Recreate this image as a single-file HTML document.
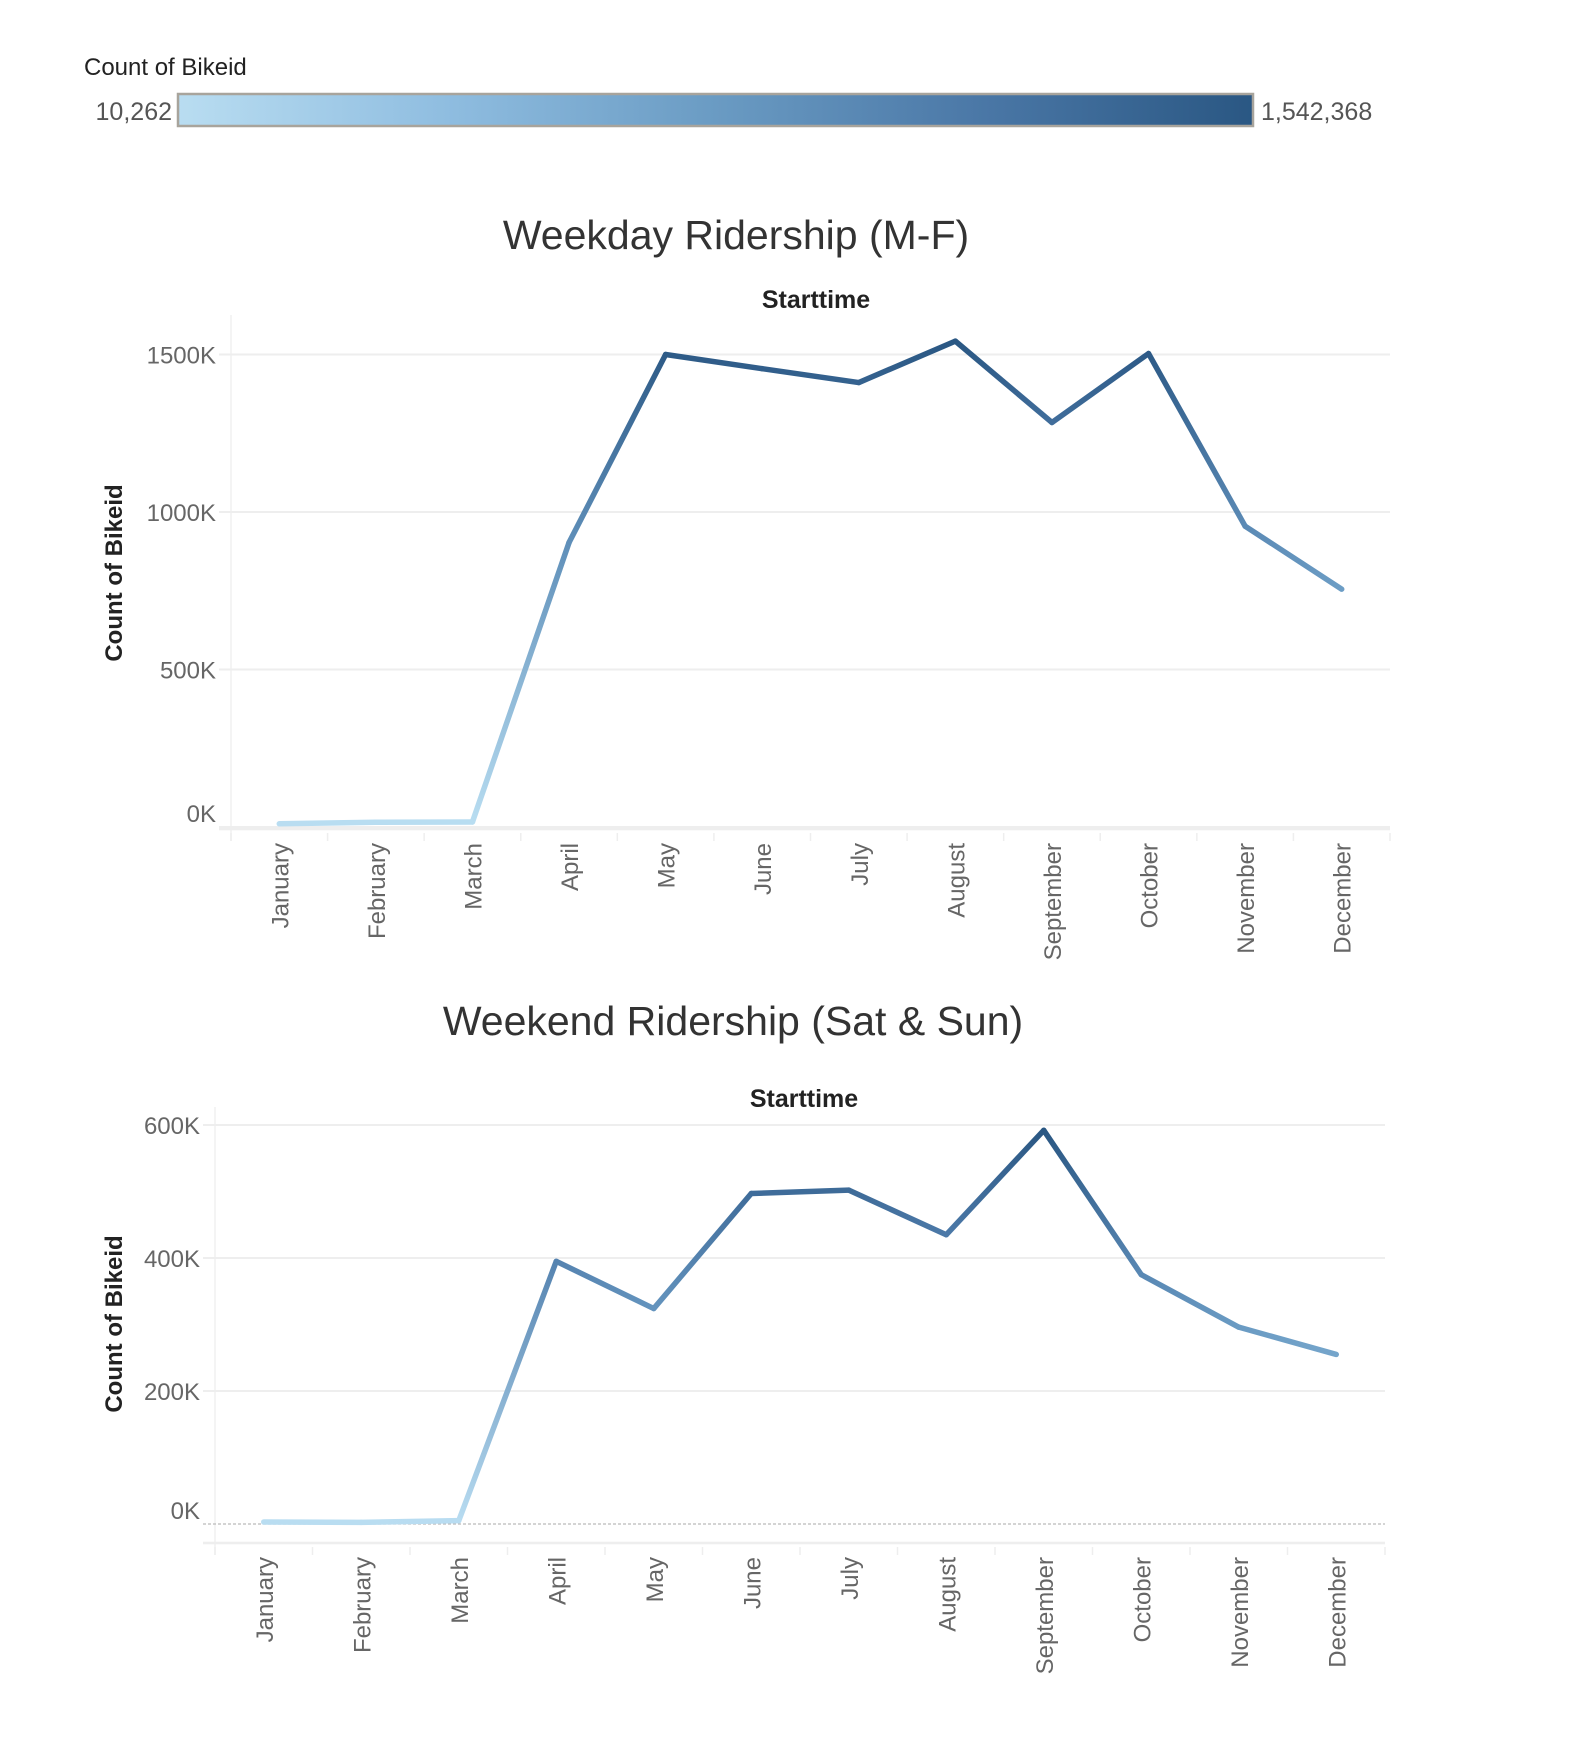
<!DOCTYPE html>
<html><head><meta charset="utf-8">
<style>
body{margin:0;background:#fff;width:1575px;height:1735px;overflow:hidden;font-family:"Liberation Sans",sans-serif;}
svg text{font-family:"Liberation Sans",sans-serif;}
</style></head>
<body>
<svg id="svg" width="1575" height="1735" viewBox="0 0 1575 1735" xmlns="http://www.w3.org/2000/svg">
<defs>
<linearGradient id="legendGrad" x1="0" x2="1" y1="0" y2="0">
<stop offset="0" stop-color="#b9ddf1"/><stop offset="0.25" stop-color="#8fbde0"/><stop offset="0.5" stop-color="#6a9bc3"/><stop offset="0.75" stop-color="#4a77a6"/><stop offset="1" stop-color="#2a5783"/>
</linearGradient>
</defs>
<g>
<text x="84" y="75" font-size="24" fill="#222">Count of Bikeid</text>
<rect x="178" y="94" width="1075" height="32" fill="url(#legendGrad)" stroke="#a8a49c" stroke-width="2.5"/>
<text x="172" y="120" font-size="25" fill="#555" text-anchor="end">10,262</text>
<text x="1261" y="120" font-size="25" fill="#555">1,542,368</text>
</g>
<g id="chart1"></g>
<g id="chart2"></g>
</svg>
<script>
const months = ["January","February","March","April","May","June","July","August","September","October","November","December"];
const weekdayValues = [10262, 15000, 16000, 903000, 1500000, 1455000, 1411000, 1542368, 1284000, 1503000, 955000, 755000];
const weekendValues = [3000, 2500, 5000, 395000, 324000, 497000, 502000, 435000, 592000, 375000, 296000, 255000];
const weekdayTicks = [0, 500000, 1000000, 1500000];
const weekdayTickLabels = ["0K","500K","1000K","1500K"];
const weekendTicks = [0, 200000, 400000, 600000];
const weekendTickLabels = ["0K","200K","400K","600K"];

const NS = "http://www.w3.org/2000/svg";
function mk(tag, attrs, parent){const e=document.createElementNS(NS,tag);for(const k in attrs)e.setAttribute(k,attrs[k]);parent.appendChild(e);return e;}
const stops=[[0,[185,221,241]],[0.25,[143,189,224]],[0.5,[106,155,195]],[0.75,[74,119,166]],[1,[42,87,131]]];
function colorFor(v,mn,mx){let t=(v-mn)/(mx-mn);t=Math.max(0,Math.min(1,t));
for(let i=0;i<stops.length-1;i++){const a=stops[i],b=stops[i+1];if(t<=b[0]){const f=(t-a[0])/(b[0]-a[0]);const c=a[1].map((x,j)=>Math.round(x+(b[1][j]-x)*f));return `rgb(${c[0]},${c[1]},${c[2]})`;}}return "rgb(42,87,131)";}

function drawChart(g, cfg){
  const svg=document.getElementById('svg');
  const defs=svg.querySelector('defs');
  const colW=(cfg.x1-cfg.x0)/12;
  const xs=i=>cfg.x0+colW*(i+0.5);
  const ys=v=>cfg.zeroY-(v/cfg.tickStep)*cfg.tickPx;
  const mn=Math.min(...cfg.values), mx=Math.max(...cfg.values);
  let t=mk('text',{x:cfg.titleX,y:cfg.titleY,'font-size':41,fill:'#333','text-anchor':'middle'},g);t.textContent=cfg.title;
  
  
  t=mk('text',{x:cfg.stX,y:cfg.stY,'font-size':25,fill:'#222','text-anchor':'middle','font-weight':'bold'},g);t.textContent='Starttime';
  
  
  t=mk('text',{x:0,y:0,'font-size':24,fill:'#222','text-anchor':'middle','font-weight':'bold',transform:`translate(${cfg.ytX},${cfg.ytY}) rotate(-90)`},g);t.textContent='Count of Bikeid';
  
  
  let l=mk('line',{x1:cfg.x0,x2:cfg.x0,y1:cfg.top,y2:cfg.axisY+12,stroke:'#f0f0f0','stroke-width':1.5},g);
  
  
  cfg.ticks.forEach((v,i)=>{
    const y=ys(v);
    const dz=(v===0&&cfg.dashedZero);
    const gl=mk('line',{x1:cfg.x0-12,x2:cfg.x1,y1:y,y2:y,stroke:dz?'#bbb':'#eeeeee','stroke-width':dz?1.2:2,'stroke-dasharray':dz?'3,2':'none'},g);
    
    
    const tx=mk('text',{x:cfg.x0-15,y:y+(v===0?-5:9),'font-size':24,fill:'#666','text-anchor':'end'},g);tx.textContent=cfg.tickLabels[i];
    
    
  });
  l=mk('line',{x1:cfg.x0-12,x2:cfg.x1,y1:cfg.axisY,y2:cfg.axisY,stroke:'#eeeeee','stroke-width':2.5},g);
  
  
  for(let i=0;i<=12;i++){const x=cfg.x0+colW*i;
    const d=mk('line',{x1:x,x2:x,y1:cfg.axisY+4,y2:cfg.axisY+12,stroke:'#eee','stroke-width':1.5},g);
    
    }
  months.forEach((m,i)=>{
    const tx=mk('text',{x:0,y:0,'font-size':24,fill:'#666','text-anchor':'end',transform:`translate(${xs(i)+9},${cfg.axisY+14}) rotate(-90)`},g);tx.textContent=m;
    
    
  });
  const vals=cfg.values;
  for(let i=0;i<vals.length-1;i++){
    const id=cfg.id+'g'+i;
    const x1=xs(i),y1=ys(vals[i]),x2=xs(i+1),y2=ys(vals[i+1]);
    const gr=mk('linearGradient',{id:id,gradientUnits:'userSpaceOnUse',x1:x1,y1:y1,x2:x2,y2:y2},defs);
    mk('stop',{offset:0,'stop-color':colorFor(vals[i],mn,mx)},gr);
    mk('stop',{offset:1,'stop-color':colorFor(vals[i+1],mn,mx)},gr);
    const seg=mk('line',{x1:x1,y1:y1,x2:x2,y2:y2,stroke:`url(#${id})`,'stroke-width':5.5,'stroke-linecap':'round'},g);
    
    
  }
}
drawChart(document.getElementById('chart1'),{id:'c1',title:'Weekday Ridership (M-F)',titleX:736,titleY:249,stX:816,stY:308,ytX:122,ytY:573,
  x0:231,x1:1390,top:315,zeroY:827,axisY:829,tickStep:500000,tickPx:157.5,ticks:weekdayTicks,tickLabels:weekdayTickLabels,values:weekdayValues,dashedZero:false});
drawChart(document.getElementById('chart2'),{id:'c2',title:'Weekend Ridership (Sat & Sun)',titleX:733,titleY:1035,stX:804,stY:1107,ytX:122,ytY:1324,
  x0:215,x1:1385,top:1107,zeroY:1524,axisY:1543,tickStep:200000,tickPx:133,ticks:weekendTicks,tickLabels:weekendTickLabels,values:weekendValues,dashedZero:true});
</script>
</body></html>
